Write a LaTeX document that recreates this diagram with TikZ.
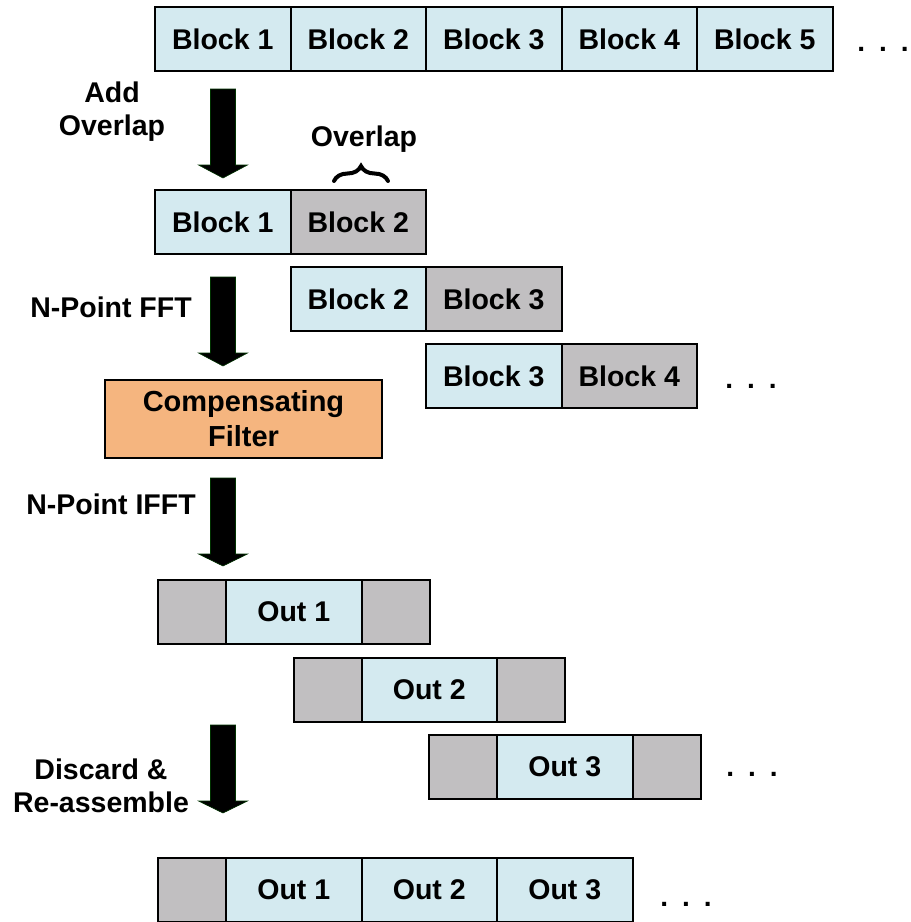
\documentclass[tikz,border=0pt]{standalone}
\usepackage{fontspec}
\setmainfont{Liberation Sans}
\usetikzlibrary{decorations.pathreplacing}
\definecolor{bblue}{HTML}{D4EAF0}
\definecolor{bgray}{HTML}{C1BFC1}
\definecolor{borange}{HTML}{F5B57F}
\tikzset{
  cell/.style={draw=black, line width=2pt, minimum height=64pt, inner sep=0pt, font=\fontsize{28.5}{30}\selectfont\bfseries},
  bluecell/.style={cell, fill=bblue, minimum width=135.5pt},
  graycell/.style={cell, fill=bgray, minimum width=135.5pt},
  padcell/.style={cell, fill=bgray, minimum width=68pt},
  lbl/.style={font=\fontsize{28.5}{33}\selectfont\bfseries, align=center, inner sep=0pt},
  dots/.style={font=\fontsize{28}{30}\selectfont\bfseries, inner sep=0pt, anchor=base},
  barrow/.style={fill=black, draw=black!80!green, line width=0.6pt}
}
\newcommand{\blockarrow}[3]{%
  \draw[barrow] (210.5,#1) -- (235.5,#1) -- (235.5,#2) -- (247.5,#2) -- (223,#3) -- (198.5,#2) -- (210.5,#2) -- cycle;}
\begin{document}
\begin{tikzpicture}[x=1pt,y=-1pt]
\useasboundingbox (0,0) rectangle (911,922);
% top row
\node[bluecell] (t1) at (222.75,39) {Block 1};
\node[bluecell] (t2) at (358.25,39) {Block 2};
\node[bluecell] (t3) at (493.75,39) {Block 3};
\node[bluecell] (t4) at (629.25,39) {Block 4};
\node[bluecell] (t5) at (764.75,39) {Block 5};
\node[dots] (d1) at (883,51) {.\hspace{14pt}.\hspace{14pt}.};
% add overlap
\node[lbl] (lab1) at (112,112) {Add\\Overlap};
\blockarrow{89}{165}{178}
\node[lbl] (ov) at (364,139) {Overlap};
\draw[line width=4pt, line cap=round, decorate, decoration={brace, amplitude=15pt}] (334,181) -- (388,181);
% overlapped blocks
\node[bluecell] (r1a) at (222.75,222) {Block 1};
\node[graycell] (r1b) at (358.25,222) {Block 2};
\node[bluecell] (r2a) at (358.25,299) {Block 2};
\node[graycell] (r2b) at (493.75,299) {Block 3};
\node[bluecell] (r3a) at (493.75,376) {Block 3};
\node[graycell] (r3b) at (629.25,376) {Block 4};
\node[dots] (d2) at (751,388) {.\hspace{14pt}.\hspace{14pt}.};
% FFT
\node[lbl] (lab2) at (111,307) {N-Point FFT};
\blockarrow{277}{353}{366}
\node[cell, fill=borange, minimum width=277pt, minimum height=78pt, align=center, font=\fontsize{29}{35}\selectfont\bfseries] (cf) at (243.5,419) {Compensating\\Filter};
% IFFT
\node[lbl] (lab3) at (111,504) {N-Point IFFT};
\blockarrow{478}{554}{566}
% out rows
\node[padcell] (o1l) at (192,612) {};
\node[bluecell] (o1) at (293.75,612) {Out 1};
\node[padcell] (o1r) at (395.5,612) {};
\node[padcell] (o2l) at (327.5,690) {};
\node[bluecell] (o2) at (429.25,690) {Out 2};
\node[padcell] (o2r) at (531,690) {};
\node[padcell] (o3l) at (463,767) {};
\node[bluecell] (o3) at (564.75,767) {Out 3};
\node[padcell] (o3r) at (666.5,767) {};
\node[dots] (d3) at (752,776) {.\hspace{14pt}.\hspace{14pt}.};
% discard
\node[lbl] (lab4) at (101,786) {Discard \&\\Re-assemble};
\blockarrow{725}{801}{813}
% final row
\node[padcell] (fl) at (192,890) {};
\node[bluecell] (f1) at (293.75,890) {Out 1};
\node[bluecell] (f2) at (429.25,890) {Out 2};
\node[bluecell] (f3) at (564.75,890) {Out 3};
\node[dots] (d4) at (686,906) {.\hspace{14pt}.\hspace{14pt}.};
\end{tikzpicture}
\end{document}
